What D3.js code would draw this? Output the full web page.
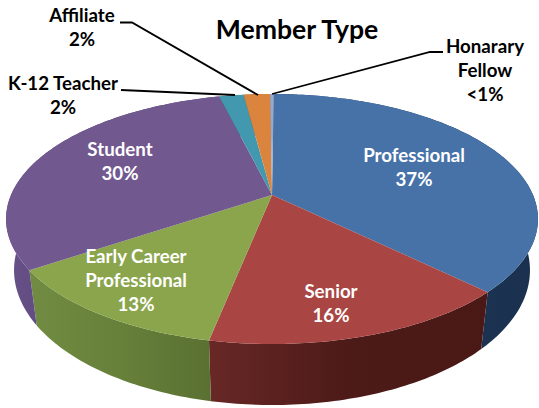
<!DOCTYPE html>
<html>
<head>
    <title>Member Type</title>
    <style>
        html, body { margin: 0; padding: 0; background: #ffffff; }
        svg { display: block; }
        text { font-family: Lato, "Open Sans", sans-serif; font-weight: 700; }
        .label { font-size: 18.7px; text-anchor: middle; }
        .title { font-size: 26.6px; text-anchor: middle; fill: #000000; }
    </style>
    <script src="https://d3js.org/d3.v7.min.js"></script>
</head>
<body>
    <div id="chart"></div>

    <script>
        // data, clockwise from the top of the pie
        var categories = ["Professional", "Senior", "Early Career\nProfessional", "Student", "K-12 Teacher", "Affiliate", "Honarary\nFellow"];
        var shares = [37.35, 15.9, 12.5, 30.7, 1.8, 1.95, 0.25];
        var shareLabels = ["37%", "16%", "13%", "30%", "2%", "2%", "<1%"];

        // styles and layout
        var topColors = ["#4672a8", "#a94542", "#8aa54c", "#71588f", "#4198af", "#db843d", "#93a9cf"];
        var wallColors = [
            ["#1f3a5e", "#1a304e"],
            ["#682826", "#4c1a17", "#4a1916"],
            ["#718c42", "#67803a", "#5a7132"],
            ["#675188", "#574377", "#4e3c6d"],
            ["#2a6475", "#2a6475"],
            ["#8f5626", "#8f5626"],
            ["#606f88", "#606f88"]
        ];
        var labelAnchors = [[414, 162], [331, 298], [136, 263], [120, 156], [63, 90], [82, 22], [485, 53]];
        var labelColors = ["#ffffff", "#ffffff", "#ffffff", "#ffffff", "#000000", "#000000", "#000000"];
        var leaderLines = [
            [[121, 90], [235, 95]],
            [[120, 22.5], [132, 22.5], [258, 95]],
            [[443, 52], [430, 52], [272, 94]]
        ];

        var width = 539, height = 408;
        var cx = 272, cy = 195;
        var rx = 261, ry = 120.4, tilt = 0.192;
        var drop = 49.3, bottomScale = 0.97;

        var svg = d3.select("#chart").append("svg")
            .attr("width", width)
            .attr("height", height);

        var slices = d3.pie().sort(null).startAngle(0.008).endAngle(2 * Math.PI + 0.008)(shares);

        // perspective view of the disc: level 0 is the top face, 1 the bottom
        function project(angle, level) {
            var u = Math.sin(angle), v = -Math.cos(angle);
            var w = 1 - tilt * v;
            var s = level ? bottomScale : 1;
            return [cx + rx * s * u / w, cy + (ry * v + level * drop) / w];
        }

        function rim(d, level) {
            var n = Math.max(4, Math.ceil((d.endAngle - d.startAngle) * 60));
            return d3.range(n + 1).map(function(i) {
                return project(d.startAngle + (d.endAngle - d.startAngle) * i / n, level);
            });
        }

        var line = d3.line();
        var defs = svg.append("defs");

        slices.forEach(function(d, i) {
            var xs = rim(d, 0).map(function(p) { return p[0]; });
            var grad = defs.append("linearGradient")
                .attr("id", "wall" + i)
                .attr("gradientUnits", "userSpaceOnUse")
                .attr("x1", d3.min(xs)).attr("x2", d3.max(xs))
                .attr("y1", 0).attr("y2", 0);
            wallColors[i].forEach(function(c, j) {
                grad.append("stop")
                    .attr("offset", j / (wallColors[i].length - 1))
                    .attr("stop-color", c);
            });
        });

        // walls first, the top face hides the back part
        svg.append("g").selectAll("path")
            .data(slices)
            .enter()
            .append("path")
            .attr("d", function(d) {
                return line(rim(d, 0).concat(rim(d, 1).reverse())) + "Z";
            })
            .style("fill", function(d, i) { return "url(#wall" + i + ")"; });

        svg.append("g").selectAll("path")
            .data(slices)
            .enter()
            .append("path")
            .attr("d", function(d) {
                return line([[cx, cy]].concat(rim(d, 0))) + "Z";
            })
            .style("fill", function(d, i) { return topColors[i]; });

        svg.append("g").selectAll("path")
            .data(leaderLines)
            .enter()
            .append("path")
            .attr("d", function(d) { return line(d); })
            .style("fill", "none")
            .style("stroke", "#000000")
            .style("stroke-width", 1.8);

        svg.append("text")
            .attr("class", "title")
            .attr("x", 297)
            .attr("y", 39)
            .text("Member Type");

        var lineGap = 24;
        categories.forEach(function(name, i) {
            var rows = name.split("\n").concat(shareLabels[i]);
            var label = svg.append("text")
                .attr("class", "label")
                .style("fill", labelColors[i]);
            rows.forEach(function(row, j) {
                label.append("tspan")
                    .attr("x", labelAnchors[i][0])
                    .attr("y", labelAnchors[i][1] + j * lineGap)
                    .text(row);
            });
        });
    </script>
</body>
</html>
